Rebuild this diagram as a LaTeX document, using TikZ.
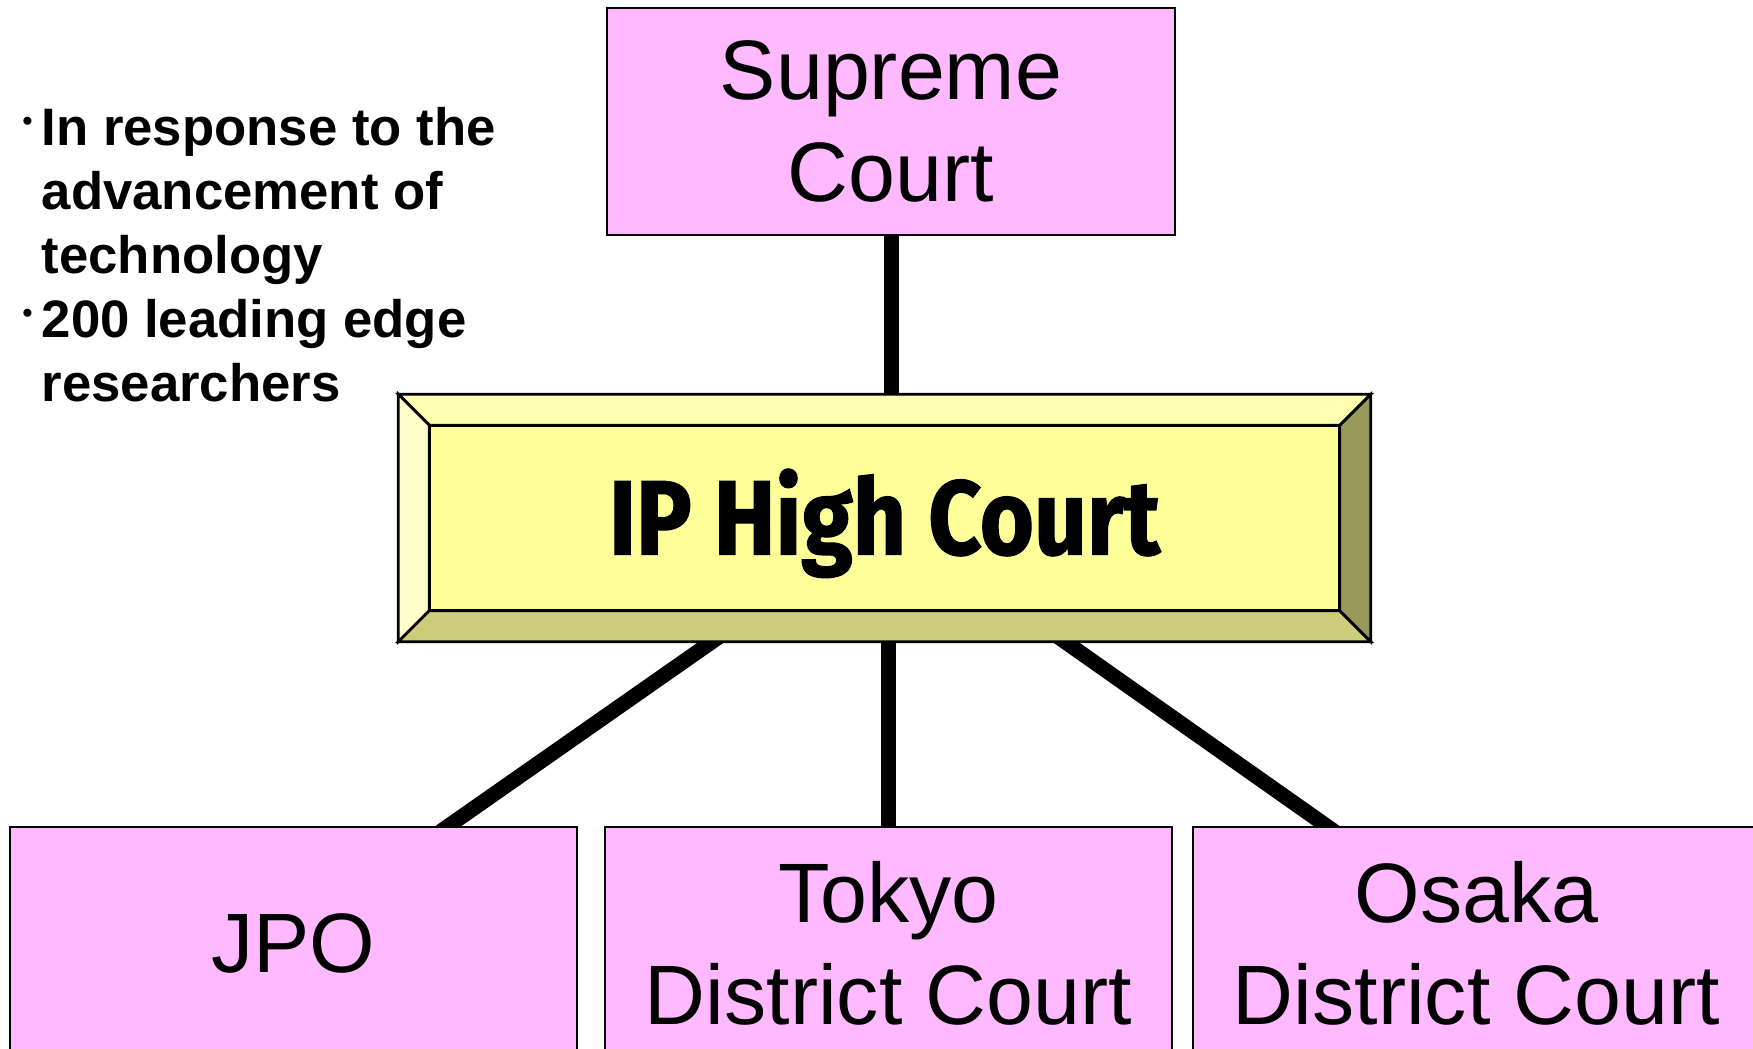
\documentclass[tikz,border=0pt]{standalone}
\usepackage{fontspec}
\setmainfont{Liberation Sans}
\newfontfamily\ipfont[FakeStretch=0.88,FakeBold=1.2]{Fira Sans}
\usetikzlibrary{calc,backgrounds}
\definecolor{courtpink}{HTML}{FFB9FF}
\definecolor{ipface}{HTML}{FFFF99}
\definecolor{iptop}{HTML}{FFFFB0}
\definecolor{ipleft}{HTML}{FFFFCC}
\definecolor{ipbottom}{HTML}{CCCC7A}
\definecolor{ipright}{HTML}{99995A}
\newcommand\dotmark{\makebox[0.19cm][l]{\raisebox{4.5pt}{\fontsize{8}{8}\selectfont •}}}
\begin{document}
\begin{tikzpicture}[
   court/.style={draw, line width=0.8pt, fill=courtpink, minimum width=5.67cm,
      minimum height=2.27cm, inner sep=0pt, align=center,
      font=\fontsize{24}{29}\selectfont},
   link/.style={line width=0.15cm},
   bevel/.style={draw, line width=0.8pt}]
   \useasboundingbox (0,0) rectangle (17.53,-10.49);
   \clip (0,0) rectangle (17.53,-10.49);
   \def \Courts {
      jpo/2.935/{JPO},
      tokyo/8.885/{Tokyo\\District Court},
      osaka/14.765/{Osaka\\District Court}}
   \node[court, minimum width=5.68cm] (supreme) at (8.91,-1.215) {Supreme\\Court};
   \node[minimum width=9.71cm, minimum height=2.46cm, inner sep=0pt,
      text height=20.7pt, text depth=0pt,
      font=\ipfont\bfseries\fontsize{30}{30}\selectfont] (ip) at (8.845,-5.18) {IP High Court};
   \foreach \u / \x / \t in \Courts {
      \node[court, minimum height=2.32cm] (\u) at (\x, -9.43) {\t};
   }
   \node[anchor=base west, inner sep=0pt, font=\bfseries\fontsize{15}{18.2}\selectfont]
      (notes) at (0.22,-1.46) {\begin{tabular}[t]{@{}l@{}l@{}}
      \dotmark & In response to the\\
               & advancement of\\
               & technology\\
      \dotmark & 200 leading edge\\
               & researchers
      \end{tabular}};
   \begin{scope}[on background layer]
      \draw[link] (supreme.south) -- (supreme.south |- ip.north);
      \draw[link, shorten <=-3pt, shorten >=-3pt] ([xshift=-1.725cm]ip.south) -- ([xshift=1.555cm]jpo.north);
      \draw[link] (tokyo.north |- ip.south) -- (tokyo.north);
      \draw[link, shorten <=-3pt, shorten >=-3pt] ([xshift=1.805cm]ip.south) -- ([xshift=-1.505cm]osaka.north);
      % bevelled frame of the high court
      \coordinate (inw) at ($(ip.north west)+(0.31,-0.31)$);
      \coordinate (ine) at ($(ip.north east)+(-0.31,-0.31)$);
      \coordinate (ise) at ($(ip.south east)+(-0.31,0.31)$);
      \coordinate (isw) at ($(ip.south west)+(0.31,0.31)$);
      \path[bevel, fill=iptop] (ip.north west) -- (ip.north east) -- (ine) -- (inw) -- cycle;
      \path[bevel, fill=ipleft] (ip.north west) -- (inw) -- (isw) -- (ip.south west) -- cycle;
      \path[bevel, fill=ipbottom] (ip.south west) -- (isw) -- (ise) -- (ip.south east) -- cycle;
      \path[bevel, fill=ipright] (ip.north east) -- (ine) -- (ise) -- (ip.south east) -- cycle;
      \path[bevel, fill=ipface] (inw) rectangle (ise);
   \end{scope}
\end{tikzpicture}
\end{document}
